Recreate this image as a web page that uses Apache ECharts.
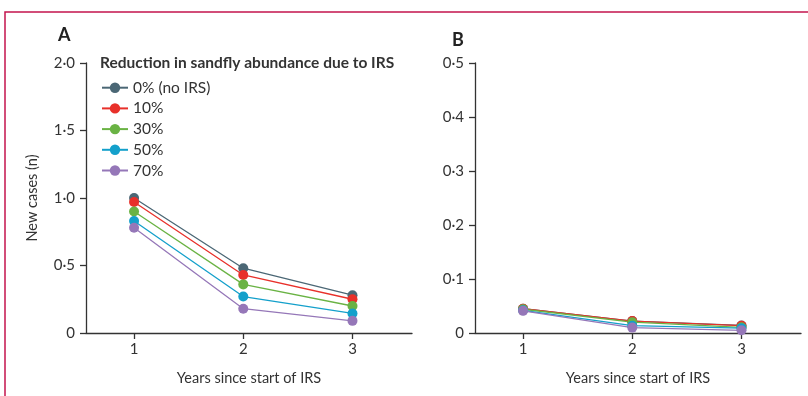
<!DOCTYPE html>
<html><head><meta charset="utf-8">
<script src="https://cdn.jsdelivr.net/npm/echarts@6/dist/echarts.min.js"></script>
<style>html,body{margin:0;padding:0;background:#fff}#c{width:808px;height:396px}</style>
</head><body><div id="c"></div>
<script>
const years = [1, 2, 3];
const seriesNames = ['0% (no IRS)', '10%', '30%', '50%', '70%'];
const colors = ['#4b6775', '#e8302a', '#6ab344', '#14a0cb', '#9577b8'];
// Panel A: new cases
const a0 = [1.00, 0.48, 0.28];
const a10 = [0.97, 0.43, 0.25];
const a30 = [0.90, 0.36, 0.20];
const a50 = [0.83, 0.27, 0.145];
const a70 = [0.78, 0.18, 0.09];
// Panel B: new cases
const b0 = [0.045, 0.022, 0.014];
const b10 = [0.045, 0.022, 0.0135];
const b30 = [0.044, 0.020, 0.0105];
const b50 = [0.042, 0.0135, 0.009];
const b70 = [0.041, 0.010, 0.005];
const yTicksA = [0, 0.5, 1.0, 1.5, 2.0];
const yTicksB = [0, 0.1, 0.2, 0.3, 0.4, 0.5];

const FONT = 'Lato';
const TXT = '#333';
const AX = '#333';
const fmt = v => v === 0 ? '0' : v.toFixed(1).replace('.', '\u00b7');

function xAxis(gi) {
  return {
    type: 'value', gridIndex: gi, min: 0.56, max: 3.545,
    name: 'Years since start of IRS', nameLocation: 'middle', nameGap: 38,
    nameTextStyle: { fontFamily: FONT, fontSize: 14.5, color: TXT },
    axisLine: { lineStyle: { color: AX, width: 1.3 } },
    axisTick: { show: true, length: 6, lineStyle: { color: AX, width: 1.3 }, customValues: years },
    axisLabel: { fontFamily: FONT, fontSize: 15, color: TXT, margin: 9, customValues: years, formatter: v => String(v) },
    splitLine: { show: false }
  };
}
function yAxis(gi, max, interval, ticks, name) {
  return {
    type: 'value', gridIndex: gi, min: 0, max: max, interval: interval,
    name: name, nameLocation: 'middle', nameGap: 46,
    nameTextStyle: { fontFamily: FONT, fontSize: 14.5, color: TXT },
    axisLine: { show: true, lineStyle: { color: AX, width: 1.3 } },
    axisTick: { show: true, length: 6, lineStyle: { color: AX, width: 1.3 }, customValues: ticks },
    axisLabel: { fontFamily: FONT, fontSize: 15, color: TXT, margin: 11, customValues: ticks, formatter: fmt },
    splitLine: { show: false }
  };
}
const dataA = [a0, a10, a30, a50, a70];
const dataB = [b0, b10, b30, b50, b70];
const series = [];
[dataA, dataB].forEach((set, gi) => {
  set.forEach((vals, i) => {
    series.push({
      type: 'line', name: seriesNames[i], xAxisIndex: gi, yAxisIndex: gi,
      data: years.map((x, k) => [x, vals[k]]),
      symbol: 'circle', symbolSize: 10, showSymbol: true,
      itemStyle: { color: colors[i] }, lineStyle: { color: colors[i], width: 1.3 },
      emphasis: { disabled: true }, animation: false
    });
  });
});

const chart = echarts.init(document.getElementById('c'), null, { renderer: 'canvas' });
chart.setOption({
  animation: false,
  title: [
    { text: 'A', left: 53, top: 21, textStyle: { fontFamily: FONT, fontSize: 18, fontWeight: 'bold', color: '#222' } },
    { text: 'B', left: 447, top: 26, textStyle: { fontFamily: FONT, fontSize: 18, fontWeight: 'bold', color: '#222' } },
    { text: 'Reduction in sandfly abundance due to IRS', left: 95, top: 50, textStyle: { fontFamily: FONT, fontSize: 15.5, fontWeight: 'bold', color: '#333' } }
  ],
  legend: {
    data: seriesNames, orient: 'vertical', left: 101, top: 79.7, padding: 0,
    itemWidth: 26, itemHeight: 13, itemGap: 4.7,
    textStyle: { fontFamily: FONT, fontSize: 15.5, color: TXT, lineHeight: 16 },
    selectedMode: false
  },
  grid: [
    { left: 86, top: 63, width: 326, height: 270 },
    { left: 475, top: 63, width: 326, height: 270 }
  ],
  xAxis: [xAxis(0), xAxis(1)],
  yAxis: [yAxis(0, 2, 0.5, yTicksA, 'New cases (n)'), yAxis(1, 0.5, 0.1, yTicksB, '')],
  series: series,
  graphic: [{
    type: 'rect', shape: { x: 5, y: 12, width: 900, height: 500 },
    style: { fill: 'none', stroke: '#c4144e', lineWidth: 1.5 }, silent: true
  }]
});
</script></body></html>
